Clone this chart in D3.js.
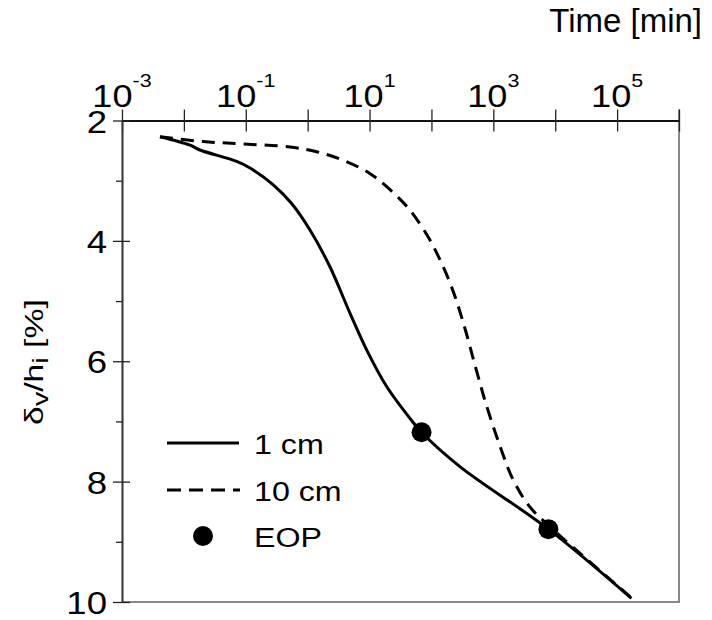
<!DOCTYPE html>
<html>
<head>
<meta charset="utf-8">
<script src="https://cdn.jsdelivr.net/npm/d3@7"></script>
<style>
  body { margin: 0; background: #fff; }
  text { font-family: "Liberation Sans", Arial, sans-serif; fill: #000; }
</style>
</head>
<body>
<svg id="chart" width="712" height="620"></svg>
<script>
// data (time in minutes, settlement in %)
var time1cm = [0.00411, 0.0126, 0.0182, 0.0713, 0.117, 0.278, 0.55, 1.09, 2.29, 4.82, 8.97, 18.9, 45.0, 69.2, 288, 7760, 170000];
var sett1cm = [2.27, 2.41, 2.49, 2.68, 2.79, 3.07, 3.38, 3.82, 4.43, 5.20, 5.81, 6.42, 6.95, 7.18, 7.75, 8.79, 9.94];

var time10cm = [0.00411, 0.0206, 0.0912, 0.518, 1.40, 3.76, 10.1, 21.4, 45.0, 94.6, 138, 191, 251, 316, 394, 479, 589, 741, 1290, 2090, 3890, 9330, 162000];
var sett10cm = [2.27, 2.35, 2.39, 2.44, 2.52, 2.66, 2.88, 3.15, 3.49, 3.985, 4.32, 4.65, 4.98, 5.31, 5.65, 5.98, 6.31, 6.67, 7.42, 7.97, 8.42, 8.80, 9.91];

var eopTime = [69.2, 7760];
var eopSett = [7.18, 8.79];

var xTicks = [1e-3, 1e-2, 1e-1, 1e0, 1e1, 1e2, 1e3, 1e4, 1e5, 1e6];
var xLabelExp = ["-3", "-1", "1", "3", "5"];
var yMajor = [2, 4, 6, 8, 10];
var yMinor = [3, 5, 7, 9];

var legendItems = ["1 cm", "10 cm", "EOP"];

var pLeft = 122, pRight = 679, pTop = 120.5, pBottom = 602;

var svg = d3.select("#chart");

var xScale = d3.scaleLog()
	.domain([1e-3, 1e6])
	.range([pLeft, pRight]);

var yScale = d3.scaleLinear()
	.domain([2, 10])
	.range([pTop, pBottom]);

// frame: right and bottom borders in grey
svg.append("line")
	.attr("x1", pRight).attr("x2", pRight)
	.attr("y1", pTop - 11).attr("y2", pBottom + 1)
	.attr("stroke", "#888").attr("stroke-width", 2);
svg.append("line")
	.attr("x1", pLeft).attr("x2", pRight)
	.attr("y1", pBottom).attr("y2", pBottom)
	.attr("stroke", "#888").attr("stroke-width", 2);

// top axis
var xAxis = d3.axisTop(xScale)
	.tickValues(xTicks)
	.tickSize(11)
	.tickSizeOuter(0)
	.tickFormat("");

var gx = svg.append("g")
	.attr("transform", "translate(0," + pTop + ")")
	.call(xAxis);
gx.select(".domain").attr("stroke", "#111").attr("stroke-width", 2);
gx.selectAll(".tick line")
	.attr("y1", 11).attr("y2", -11)
	.attr("stroke", "#222").attr("stroke-width", 1.3);

xLabelExp.forEach(function(e){
	var t = svg.append("text")
		.attr("transform", "translate(" + xScale(Math.pow(10, +e)) + ",107) scale(1.13,1)")
		.attr("text-anchor", "middle")
		.style("font-size", "32px");
	t.append("tspan").text("10");
	t.append("tspan").attr("dy", -20).style("font-size", "19px").text(e);
});

svg.append("text")
	.attr("x", 702).attr("y", 32)
	.attr("text-anchor", "end")
	.style("font-size", "33px")
	.text("Time [min]");

// left axis
var yAxis = d3.axisLeft(yScale)
	.tickValues(yMajor)
	.tickSize(9)
	.tickSizeOuter(0)
	.tickFormat("");

var gy = svg.append("g")
	.attr("transform", "translate(" + pLeft + ",0)")
	.call(yAxis);
gy.select(".domain").attr("stroke", "#333").attr("stroke-width", 2);
gy.selectAll(".tick line")
	.attr("x1", -9).attr("x2", 8)
	.attr("stroke", "#222").attr("stroke-width", 1.3);

var yAxisMinor = d3.axisLeft(yScale)
	.tickValues(yMinor)
	.tickSize(6)
	.tickSizeOuter(0)
	.tickFormat("");
var gym = svg.append("g")
	.attr("transform", "translate(" + pLeft + ",0)")
	.call(yAxisMinor);
gym.select(".domain").remove();
gym.selectAll(".tick line").attr("stroke", "#222").attr("stroke-width", 1.3);

yMajor.forEach(function(v){
	svg.append("text")
		.attr("transform", "translate(107," + (yScale(v) + 12) + ") scale(1.18,1)")
		.attr("text-anchor", "end")
		.style("font-size", "31px")
		.text(v);
});

// y label
var yl = svg.append("text")
	.attr("transform", "translate(43,362) rotate(-90) scale(1.3,1)")
	.attr("text-anchor", "middle")
	.style("font-size", "26px");
yl.append("tspan").text("\u03b4");
yl.append("tspan").attr("dy", 5).style("font-size", "22px").text("v");
yl.append("tspan").attr("dy", -5).text("/h");
yl.append("tspan").attr("dy", 5).style("font-size", "22px").text("i");
yl.append("tspan").attr("dy", -5).text(" [%]");

// curves
var line = d3.line()
	.x(function(d){ return xScale(d[0]); })
	.y(function(d){ return yScale(d[1]); })
	.curve(d3.curveCatmullRom.alpha(0.5));

svg.append("path")
	.datum(d3.zip(time10cm, sett10cm))
	.attr("d", line)
	.attr("fill", "none")
	.attr("stroke", "#000")
	.attr("stroke-width", 3)
	.attr("stroke-dasharray", "13,8");

svg.append("path")
	.datum(d3.zip(time1cm, sett1cm))
	.attr("d", line)
	.attr("fill", "none")
	.attr("stroke", "#000")
	.attr("stroke-width", 3);

svg.selectAll(".eop")
	.data(d3.zip(eopTime, eopSett))
	.enter()
	.append("circle")
	.attr("class", "eop")
	.attr("cx", function(d){ return xScale(d[0]); })
	.attr("cy", function(d){ return yScale(d[1]); })
	.attr("r", 10)
	.attr("fill", "#000");

// legend
var legY = [443, 490, 536];
svg.append("line")
	.attr("x1", 167).attr("x2", 239)
	.attr("y1", legY[0]).attr("y2", legY[0])
	.attr("stroke", "#000").attr("stroke-width", 3);
svg.append("line")
	.attr("x1", 167).attr("x2", 240)
	.attr("y1", legY[1]).attr("y2", legY[1])
	.attr("stroke", "#000").attr("stroke-width", 3)
	.attr("stroke-dasharray", "14,8");
svg.append("circle")
	.attr("cx", 203).attr("cy", legY[2])
	.attr("r", 10).attr("fill", "#000");

legendItems.forEach(function(s, i){
	svg.append("text")
		.attr("transform", "translate(254," + (legY[i] + 11) + ") scale(1.15,1)")
		.style("font-size", "28px")
		.text(s);
});
</script>
</body>
</html>
